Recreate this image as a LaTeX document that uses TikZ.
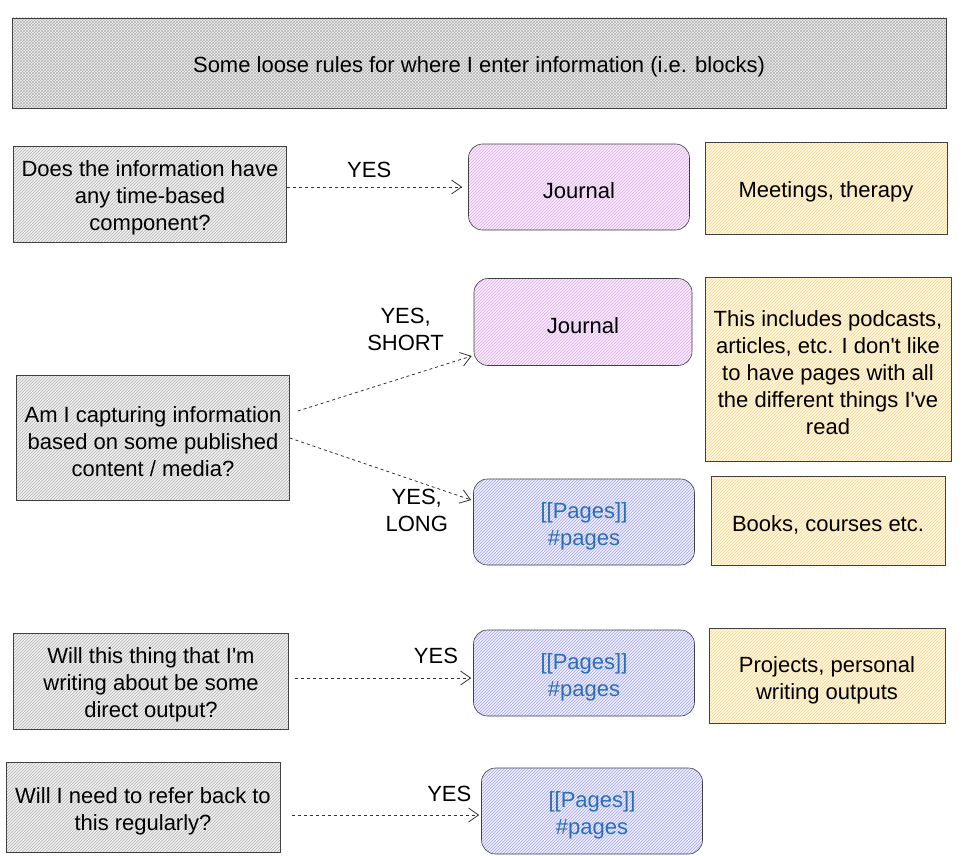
\documentclass[tikz,border=0pt]{standalone}
\usepackage{fontspec}
\setmainfont{Liberation Sans}
\usetikzlibrary{patterns,arrows.meta}
\definecolor{qgray}{HTML}{F0F0F0}
\definecolor{qline}{HTML}{B4B4B4}
\definecolor{jfill}{HTML}{F8EEFB}
\definecolor{jline}{HTML}{DDA8EA}
\definecolor{pfill}{HTML}{EEEEFF}
\definecolor{pline}{HTML}{A6A6EC}
\definecolor{nfill}{HTML}{FFF8E4}
\definecolor{nline}{HTML}{F8D488}
\definecolor{linkblue}{HTML}{2A6EBB}
% taller first line, pushes box text down a little
\newcommand{\fl}{\rule{0pt}{24pt}}

\begin{document}
\begin{tikzpicture}[x=1pt, y=-1pt,
		font=\fontsize{22}{27}\selectfont,
		box/.style={draw=black!75, semithick, align=center, inner sep=0pt},
		question/.style={box, preaction={fill=qgray}, pattern=north east lines, pattern color=qline, minimum width=273pt, minimum height=96pt},
		journal/.style={box, rounded corners=14pt, preaction={fill=jfill}, pattern=north east lines, pattern color=jline, minimum width=221pt, minimum height=86pt},
		pages/.style={box, rounded corners=14pt, preaction={fill=pfill}, pattern=north east lines, pattern color=pline, minimum width=221pt, minimum height=86pt, text=linkblue},
		note/.style={box, preaction={fill=nfill}, pattern=north east lines, pattern color=nline, minimum width=238pt, minimum height=92pt},
		yes/.style={->, dashed, black!80, line width=0.8pt, >={Straight Barb[length=10pt, width=14pt, line width=0.8pt]}},
		answer/.style={text=black, align=center}]
		\useasboundingbox (0,0) rectangle (963,856);

		\node [box, preaction={fill=qgray}, pattern=crosshatch, pattern color=qline, minimum width=934pt, minimum height=90pt] (T) at (479,63) {\fl Some loose rules for where I enter information (i.e. blocks)};

		\node [question] (Q1) at (150,194) {\fl Does the information have\\any time-based\\component?};
		\node [journal] (J1) at (579,187) {\fl Journal};
		\node [note, minimum width=242pt] (N1) at (826,188) {\fl Meetings, therapy};

		\node [question, minimum height=125pt] (Q2) at (153,438) {\fl Am I capturing information\\based on some published\\content / media?};
		\node [journal, minimum width=218pt, minimum height=87pt] (J2) at (583,322) {\fl Journal};
		\node [note, minimum width=246pt, minimum height=184pt] (N2) at (828,369) {\fl This includes podcasts,\\articles, etc. I don\textquotesingle t like\\to have pages with all\\the different things I\textquotesingle ve\\read};
		\node [pages] (P1) at (584,522) {\fl [[Pages]]\\\#pages};
		\node [note, minimum width=234pt, minimum height=89pt] (N3) at (828,521) {\fl Books, courses etc.};

		\node [question, minimum width=275pt] (Q3) at (151,681) {\fl Will this thing that I\textquotesingle m\\writing about be some\\direct output?};
		\node [pages] (P2) at (584,673) {\fl [[Pages]]\\\#pages};
		\node [note, minimum width=236pt, minimum height=95pt] (N4) at (827,676) {\fl Projects, personal\\writing outputs};

		\node [question, minimum width=274pt, minimum height=90pt] (Q4) at (143,807) {\fl Will I need to refer back to\\this regularly?};
		\node [pages] (P3) at (592,811) {\fl [[Pages]]\\\#pages};

		\path[yes] (Q1.east |- J1.west) edge node [answer, above=6pt, pos=0.47] {YES} ([xshift=-6pt]J1.west);
		\path[yes] ([xshift=8pt, yshift=27pt]Q2.east) edge node [answer, above=22pt, pos=0.62] {YES,\\SHORT} ([xshift=-2pt, yshift=-34pt]J2.west);
		\path[yes] (Q2.east) edge node [answer, below=4pt, pos=0.7] {YES,\\LONG} ([xshift=-2pt, yshift=22pt]P1.west);
		\path[yes] ([xshift=6pt, yshift=3pt]Q3.east) edge node [answer, above=11pt, pos=0.8] {YES} ([xshift=-2pt, yshift=-5pt]P2.west);
		\path[yes] ([xshift=12pt, yshift=-8pt]Q4.east) edge node [answer, above=10pt, pos=0.84] {YES} ([xshift=-2pt, yshift=-4pt]P3.west);
	\end{tikzpicture}
\end{document}
